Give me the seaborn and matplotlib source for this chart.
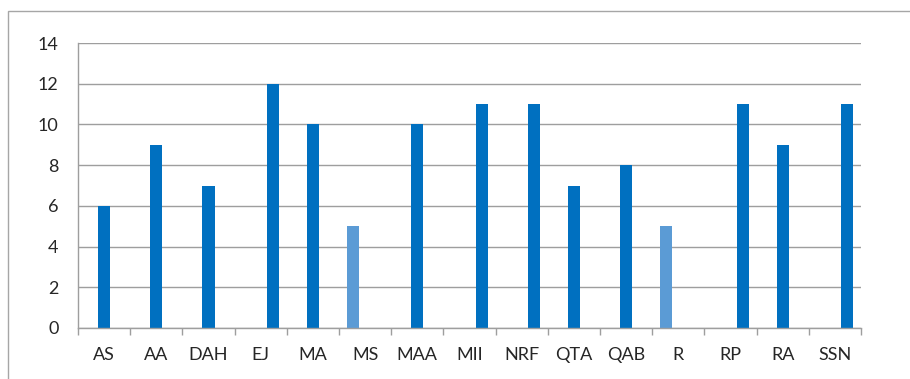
import matplotlib.pyplot as plt
import seaborn as sns
import pandas as pd
from matplotlib.patches import Rectangle
from matplotlib.ticker import FixedLocator

names = ["AS", "AA", "DAH", "EJ", "MA", "MS", "MAA", "MII", "NRF", "QTA", "QAB", "R", "RP", "RA", "SSN"]
values = [6, 9, 7, 12, 10, 5, 10, 11, 11, 7, 8, 5, 11, 9, 11]
series = ["2", "2", "2", "3", "2", "1", "2", "3", "3", "2", "2", "1", "3", "2", "3"]
series_order = ["1", "2", "3"]
colors = {"1": "#5B9BD5", "2": "#0070C0", "3": "#0070C0"}

df = pd.DataFrame({"name": names, "value": values, "series": series})

sns.set_style("white")
plt.rcParams['font.family'] = ['Lato', 'DejaVu Sans']

fig = plt.figure(figsize=(9.1, 3.79), dpi=100)
ax = fig.add_axes([78 / 910, 1 - 328 / 379, 783 / 910, 285 / 379])

sns.barplot(data=df, x="name", y="value", hue="series", hue_order=series_order,
            order=names, palette=colors, width=0.69, gap=0, dodge=True,
            saturation=1, linewidth=0, legend=False, ax=ax)

grid = "#9E9E9E"
ax.set_ylim(0, 14)
ax.set_xlim(-0.5, len(names) - 0.5)
ax.set_yticks(range(0, 15, 2))
ax.yaxis.grid(True, color=grid, linewidth=1)
ax.set_axisbelow(True)
ax.set_xlabel("")
ax.set_ylabel("")

for s in ["top", "right"]:
    ax.spines[s].set_visible(False)
for s in ["left", "bottom"]:
    ax.spines[s].set_color(grid)
    ax.spines[s].set_linewidth(1)

ax.tick_params(axis="y", length=5, color=grid, width=1, pad=9, labelsize=13, labelcolor="#262626")
ax.tick_params(axis="x", which="major", length=0, pad=14, labelsize=13, labelcolor="#262626")
ax.xaxis.set_minor_locator(FixedLocator([i - 0.5 for i in range(len(names) + 1)]))
ax.tick_params(axis="x", which="minor", length=5, color=grid, width=1, bottom=True)

fig.patches.append(Rectangle((8 / 910, -0.1), 1.2, 1.1 - 11 / 379, transform=fig.transFigure,
                             fill=False, edgecolor="#A6A6A6", linewidth=1))

fig.savefig("out.png", dpi=100)
